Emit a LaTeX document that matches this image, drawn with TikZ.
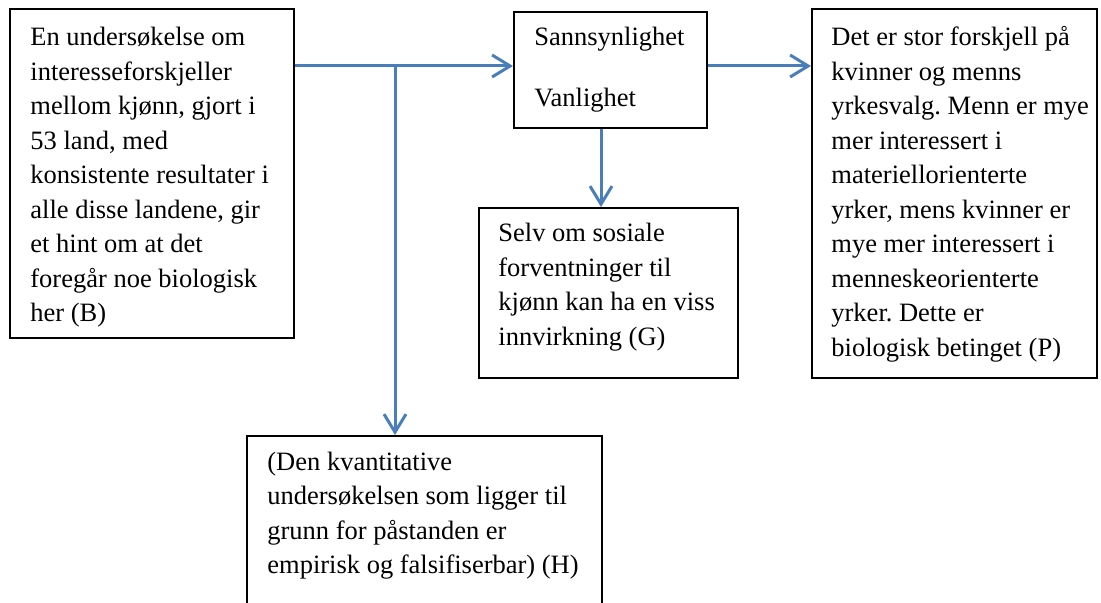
\documentclass[tikz,border=0pt]{standalone}
\usepackage{fontspec}
\setmainfont{Liberation Serif}
\usepackage{xcolor}
\usetikzlibrary{arrows.meta, positioning}
\definecolor{linkblue}{RGB}{74, 126, 187}
\frenchspacing

\begin{document}
\begin{tikzpicture}[
      x=0.5pt, y=-0.5pt,
      box/.style={draw=black, line width=0.8pt, anchor=north west,
                  inner sep=0pt},
      boxtext/.style={anchor=base west, inner sep=0pt,
                      font=\fontsize{13.25pt}{17.25pt}\selectfont},
      link/.style={draw=linkblue, line width=1.5pt,
                   -{Straight Barb[length=9pt,width=11pt]}}
    ]
    \useasboundingbox (0,0) rectangle (1101,603);
    % boxes
    \node[box, minimum width=142pt, minimum height=164.5pt] (b) at (9,8) {};
    \node[box, minimum width=96.5pt, minimum height=58pt] (s) at (513,11) {};
    \node[box, minimum width=142.5pt, minimum height=184.5pt] (p) at (811,8) {};
    \node[box, minimum width=129.5pt, minimum height=85pt] (g) at (478,207) {};
    \node[box, minimum width=177.5pt, minimum height=92.5pt] (h) at (246,435) {};
    % texts
    \node[boxtext] (btext) at (30,46)
      {\parbox[t]{140pt}{\raggedright En undersøkelse om\\
       interesseforskjeller\\ mellom kjønn, gjort i\\ 53 land, med\\
       konsistente resultater i\\ alle disse landene, gir\\
       et hint om at det\\ foregår noe biologisk\\ her (B)}};
    \node[boxtext] (stext) at (534,46)
      {\parbox[t]{90pt}{\raggedright Sannsynlighet\\[13.25pt] Vanlighet}};
    \node[boxtext] (ptext) at (831,46)
      {\parbox[t]{140pt}{\raggedright Det er stor forskjell på\\
       kvinner og menns\\ yrkesvalg. Menn er mye\\ mer interessert i\\
       materiellorienterte\\ yrker, mens kvinner er\\
       mye mer interessert i\\ menneskeorienterte\\ yrker. Dette er\\
       biologisk betinget (P)}};
    \node[boxtext] (gtext) at (498,242)
      {\parbox[t]{125pt}{\raggedright Selv om sosiale\\
       forventninger til\\ kjønn kan ha en viss\\ innvirkning (G)}};
    \node[boxtext] (htext) at (267,470)
      {\parbox[t]{170pt}{\raggedright (Den kvantitative\\
       undersøkelsen som ligger til\\ grunn for påstanden er\\
       empirisk og falsifiserbar) (H)}};
    % connectors
    \coordinate (split) at (395,66);
    \coordinate (drop) at (601,127);
    \draw[link] (b.east |- split) -- (s.west |- split);
    \draw[link] (split) -- (h.north -| split);
    \draw[link] (s.east |- split) -- (p.west |- split);
    \draw[link] (s.south -| drop) -- (g.north -| drop);
  \end{tikzpicture}
\end{document}
